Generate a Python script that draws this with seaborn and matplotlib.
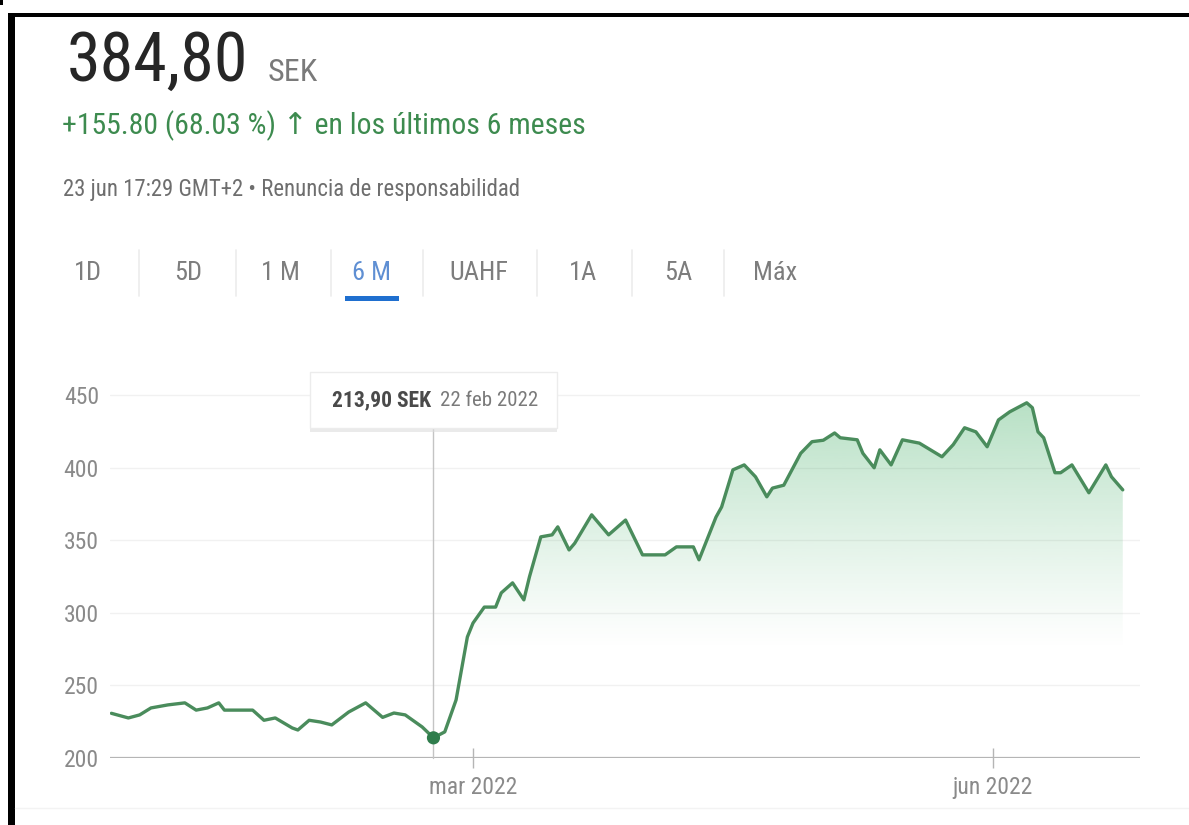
import numpy as np
import pandas as pd
import matplotlib
matplotlib.use('Agg')
import matplotlib.pyplot as plt
import matplotlib.dates as mdates
import matplotlib.transforms as mtransforms
from matplotlib import font_manager
from matplotlib.patches import Polygon, Rectangle
from matplotlib.lines import Line2D
import seaborn as sns

# ── data ──────────────────────────────────────────────────────────────────────
dates = ['2021-12-27', '2021-12-30', '2022-01-01', '2022-01-03', '2022-01-06',
         '2022-01-09', '2022-01-11', '2022-01-13', '2022-01-15', '2022-01-16',
         '2022-01-21', '2022-01-23', '2022-01-25', '2022-01-28', '2022-01-29',
         '2022-01-31', '2022-02-02', '2022-02-04', '2022-02-07', '2022-02-10',
         '2022-02-13', '2022-02-15', '2022-02-17', '2022-02-20', '2022-02-22',
         '2022-02-24', '2022-02-26', '2022-02-28', '2022-03-01', '2022-03-03',
         '2022-03-05', '2022-03-06', '2022-03-08', '2022-03-10', '2022-03-11',
         '2022-03-13', '2022-03-15', '2022-03-16', '2022-03-18', '2022-03-19',
         '2022-03-22', '2022-03-25', '2022-03-28', '2022-03-31', '2022-04-04',
         '2022-04-06', '2022-04-09', '2022-04-10', '2022-04-13', '2022-04-14',
         '2022-04-16', '2022-04-18', '2022-04-20', '2022-04-22', '2022-04-23',
         '2022-04-25', '2022-04-28', '2022-04-30', '2022-05-02', '2022-05-04',
         '2022-05-05', '2022-05-08', '2022-05-09', '2022-05-11', '2022-05-12',
         '2022-05-14', '2022-05-16', '2022-05-19', '2022-05-23', '2022-05-25',
         '2022-05-27', '2022-05-29', '2022-05-31', '2022-06-02', '2022-06-04',
         '2022-06-07', '2022-06-08', '2022-06-09', '2022-06-10', '2022-06-12',
         '2022-06-13', '2022-06-15', '2022-06-18', '2022-06-21', '2022-06-22',
         '2022-06-24']
prices = [230.8, 227.6, 229.7, 234.5, 236.6, 238, 233, 234.5, 238, 233,
          233, 226, 227.6, 220.7, 219.3, 226, 224.8, 222.8, 231.7, 238,
          228, 231, 229.7, 221.4, 213.9, 218, 240, 283.4, 293, 304,
          304, 313.8, 320.7, 309, 325, 352.4, 353.8, 359.3, 343.4, 348,
          367.6, 353.8, 364, 340, 340, 345.5, 345.5, 336.6, 366, 373,
          398.6, 402, 393.8, 380, 386, 388, 410, 418, 419, 424,
          420.7, 419.3, 410, 400, 412.4, 402, 419.3, 417, 407.6, 416,
          427.6, 424.8, 414.5, 433, 438.6, 444.8, 441.4, 424.8, 420.7, 396.6,
          396.6, 402, 382.8, 402, 393.8, 384.8]

y_ticks = [200, 250, 300, 350, 400, 450]
x_tick_dates = ['2022-03-01', '2022-06-01']
x_tick_labels = ['mar 2022', 'jun 2022']
tabs = ['1D', '5D', '1 M', '6 M', 'UAHF', '1A', '5A', 'Máx']
active_tab = '6 M'

price_now = '384,80'
change_text = '+155.80 (68.03 %) \u2191 en los últimos 6 meses'
stamp_text = '23 jun 17:29 GMT+2 \u2022 Renuncia de responsabilidad'
tooltip_date = '2022-02-22'

# ── style ─────────────────────────────────────────────────────────────────────
sns.set_theme(style='white')

# the screenshot uses a narrow face; take a condensed one if installed
cond = None
for f in font_manager.fontManager.ttflist:
    if f.name in ('Roboto Condensed', 'Liberation Sans Narrow'):
        cond = (f.name, 'normal')
        break
if cond is None:
    for f in font_manager.fontManager.ttflist:
        if f.name in ('Roboto', 'Noto Sans', 'Open Sans', 'DejaVu Sans') and \
                f.stretch in ('condensed', 'semi-condensed'):
            cond = (f.name, f.stretch)
            break
if cond is None:
    cond = ('Roboto', 'normal')
plt.rcParams['font.family'] = [cond[0], 'DejaVu Sans']
plt.rcParams['font.stretch'] = cond[1]

GREEN_LINE = '#4a8c5c'
GREEN_TEXT = '#3d8b4f'
GREY_TXT = '#8a8a8a'

W, H = 1189, 825
fig = plt.figure(figsize=(W / 100, H / 100), dpi=100)
fig.patch.set_facecolor('white')
renderer = fig.canvas.get_renderer()


def fx(px):
    return px / W


def fy(py):
    return 1 - py / H


def fit_text(x, y, s, width_px, size, **kw):
    """Put a text at pixel (x, y) and scale it to the width seen in the shot."""
    t = fig.text(fx(x), fy(y), s, fontsize=size, **kw)
    w = t.get_window_extent(renderer).width
    t.set_fontsize(min(size * width_px / w, size * 1.25))
    return t


# ── header texts ──────────────────────────────────────────────────────────────
fit_text(67, 81, price_now, 182, 56, color='#262626', va='baseline')
fit_text(268, 81, 'SEK', 50, 26, color='#7a7a7a', va='baseline')
fit_text(62, 134, change_text, 524, 22, color=GREEN_TEXT, va='baseline')
fit_text(63, 196, stamp_text, 458, 16, color='#6e6e6e', va='baseline')

tab_x = [88, 188, 280, 372, 479, 583, 678, 775]
sep_x = [139, 236, 331, 423, 537, 632, 724]
for label, x in zip(tabs, tab_x):
    active = label == active_tab
    fig.text(fx(x), fy(273), label, fontsize=19, ha='center', va='center',
             color='#5f8fd3' if active else '#7d7d7d')
    if active:
        fig.add_artist(Rectangle((fx(x - 27), fy(301)), fx(54), 5 / H,
                                 transform=fig.transFigure, color='#1f6fcf',
                                 lw=0))
for x in sep_x:
    fig.add_artist(Line2D([fx(x), fx(x)], [fy(250), fy(296)],
                          transform=fig.transFigure, color='#ececec', lw=1.2))

# ── chart ─────────────────────────────────────────────────────────────────────
df = pd.DataFrame({'date': pd.to_datetime(dates), 'price': prices})
ax = fig.add_axes([fx(110), fy(758), fx(1140) - fx(110), (758 - 388) / H])
ax.set_facecolor('none')

mar1 = mdates.date2num(pd.Timestamp('2022-03-01'))
ax.set_xlim(mar1 - 64.25, mar1 + 118.05)
ax.set_ylim(200, 455)

xnum = mdates.date2num(df['date'])
poly = Polygon(np.column_stack([np.r_[xnum[0], xnum, xnum[-1]],
                                np.r_[200, df['price'], 200]]),
               closed=True, facecolor='none', edgecolor='none',
               transform=ax.transData)
ax.add_patch(poly)

yy = np.linspace(200, 455, 256)
alpha = np.clip((yy - 275) / (450 - 275), 0, 1) ** 1.1 * 0.36
grad = np.zeros((256, 1, 4))
grad[..., 0] = 0x34 / 255
grad[..., 1] = 0xa8 / 255
grad[..., 2] = 0x5a / 255
grad[..., 3] = alpha[:, None]
im = ax.imshow(grad, extent=[xnum[0], xnum[-1], 200, 455], origin='lower',
               aspect='auto', zorder=1, interpolation='bilinear')
im.set_clip_path(poly)

for v in y_ticks[1:]:
    ax.axhline(v, color='#f1f1f1', lw=1, zorder=0)
ax.axhline(200, color='#b5b5b5', lw=1.6, zorder=2)

sns.lineplot(data=df, x='date', y='price', ax=ax, color=GREEN_LINE, lw=2.4,
             zorder=4)

# tooltip at the 6-month low
tip = df.loc[df['date'] == pd.Timestamp(tooltip_date)].iloc[0]
tip_x = mdates.date2num(tip['date'])
blend = mtransforms.blended_transform_factory(ax.transData, ax.transAxes)
box_bottom, box_top = (758 - 428) / 370, (758 - 372) / 370
ax.plot([tip_x, tip_x], [0, box_bottom], transform=blend, color='#c4c4c4',
        lw=1, zorder=3, clip_on=False)
half_w = 123.5 / 5.65
ax.add_patch(Rectangle((tip_x - half_w, box_bottom - 0.012), 2 * half_w,
                       box_top - box_bottom, transform=blend,
                       facecolor='#dcdcdc', edgecolor='none', alpha=0.6,
                       clip_on=False, zorder=5))
ax.add_patch(Rectangle((tip_x - half_w, box_bottom), 2 * half_w,
                       box_top - box_bottom, transform=blend,
                       facecolor='white', edgecolor='#ececec', lw=1,
                       clip_on=False, zorder=6))
ax.annotate(f"{tip['price']:.2f}".replace('.', ',') + ' SEK',
            xy=(tip_x, (box_top + box_bottom) / 2), xycoords=blend,
            xytext=(-2, 0), textcoords='offset points', ha='right',
            va='center', fontsize=15.5, fontweight='bold', color='#4a4a4a',
            zorder=7, annotation_clip=False)
ax.annotate(tip['date'].strftime('%d feb %Y'),
            xy=(tip_x, (box_top + box_bottom) / 2), xycoords=blend,
            xytext=(5, 0), textcoords='offset points', ha='left',
            va='center', fontsize=15, color='#7a7a7a', zorder=7,
            annotation_clip=False)
ax.scatter([tip_x], [tip['price']], s=90, color='#2f7d4c', zorder=8,
           edgecolor='none')

# axes cosmetics
sns.despine(ax=ax, left=True, bottom=True)
ax.set_xlabel('')
ax.set_ylabel('')
ax.set_yticks(y_ticks)
ax.set_yticklabels([str(v) for v in y_ticks])
ax.tick_params(axis='y', length=0, pad=8, labelsize=17, labelcolor=GREY_TXT)
ax.set_xticks(mdates.date2num(pd.to_datetime(x_tick_dates)))
ax.set_xticklabels(x_tick_labels)
ax.tick_params(axis='x', direction='inout', length=14, width=1,
               color='#b5b5b5', pad=6, labelsize=17, labelcolor=GREY_TXT,
               bottom=True)
ax.grid(False)

# ── screenshot frame ──────────────────────────────────────────────────────────
fig.add_artist(Rectangle((fx(8), 0), fx(7), fy(13), transform=fig.transFigure,
                         color='black', lw=0))
fig.add_artist(Rectangle((fx(8), fy(17)), 1, 4 / H, transform=fig.transFigure,
                         color='black', lw=0))
fig.add_artist(Rectangle((0, fy(5)), fx(3), 5 / H, transform=fig.transFigure,
                         color='black', lw=0))
fig.add_artist(Line2D([fx(15), 1], [fy(808), fy(808)],
                      transform=fig.transFigure, color='#f3f3f3', lw=1))

fig.savefig('out.png', dpi=100)
